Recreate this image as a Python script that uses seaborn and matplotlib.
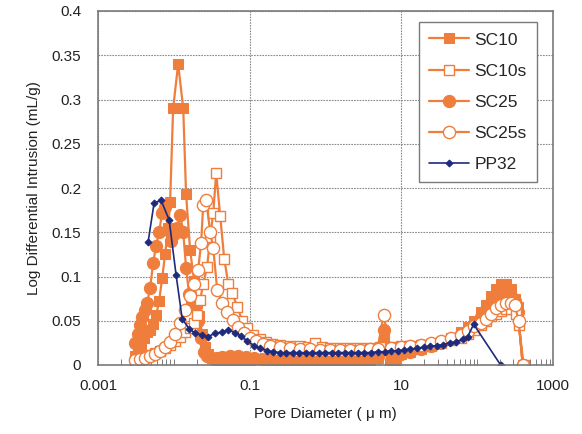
import matplotlib
matplotlib.use("Agg")
import seaborn as sns
from matplotlib import pyplot as plt
from matplotlib.ticker import FixedLocator, NullFormatter

# pore diameter (um) / log differential intrusion (mL/g)
sc10_x = [0.00308, 0.00338, 0.00370, 0.00405, 0.00444, 0.00486, 0.00533, 0.00584, 0.00639, 0.00701,
          0.00767, 0.00841, 0.00893, 0.00979, 0.0114, 0.0133, 0.0145, 0.0164, 0.0185, 0.0203,
          0.0216, 0.0236, 0.0259, 0.0284, 0.0321, 0.0373, 0.0476, 0.0607, 0.0751, 0.102,
          0.138, 0.187, 0.254, 0.344, 0.466, 0.631, 0.857, 1.16, 1.57, 2.13,
          2.89, 3.92, 4.85, 5.82, 7.20, 8.38, 9.76, 13.2, 17.9, 24.3,
          33.0, 44.7, 60.5, 74.9, 89.9, 111, 130, 151, 176, 204,
          238, 277, 313, 343, 399]
sc10_y = [0.010, 0.016, 0.022, 0.030, 0.037, 0.040, 0.046, 0.056, 0.072, 0.098,
          0.125, 0.155, 0.184, 0.290, 0.340, 0.290, 0.193, 0.130, 0.095, 0.070,
          0.055, 0.035, 0.020, 0.012, 0.008, 0.006, 0.005, 0.005, 0.005, 0.006,
          0.007, 0.007, 0.006, 0.005, 0.004, 0.004, 0.004, 0.004, 0.004, 0.005,
          0.005, 0.006, 0.008, 0.030, 0.008, 0.000, 0.012, 0.015, 0.018, 0.021,
          0.025, 0.030, 0.037, 0.043, 0.050, 0.060, 0.068, 0.078, 0.086, 0.092,
          0.092, 0.086, 0.075, 0.065, 0.000]

sc10s_x = [0.00308, 0.00359, 0.00418, 0.00486, 0.00566, 0.00659, 0.00767, 0.00893, 0.0104, 0.0121,
           0.0141, 0.0164, 0.0185, 0.0203, 0.0222, 0.0244, 0.0275, 0.0302, 0.0331, 0.0362,
           0.0409, 0.0462, 0.0522, 0.0589, 0.0686, 0.0798, 0.0930, 0.112, 0.138, 0.166,
           0.199, 0.254, 0.344, 0.466, 0.594, 0.735, 0.910, 1.16, 1.57, 2.13,
           2.89, 3.92, 5.31, 7.20, 9.76, 13.2, 17.9, 24.3, 33.0, 44.7,
           60.5, 74.9, 89.9, 111, 130, 151, 176, 204, 238, 277,
           323, 353, 411]
sc10s_y = [0.006, 0.008, 0.009, 0.011, 0.013, 0.016, 0.019, 0.023, 0.027, 0.032,
           0.037, 0.042, 0.048, 0.056, 0.073, 0.092, 0.111, 0.145, 0.172, 0.217,
           0.168, 0.120, 0.092, 0.081, 0.066, 0.050, 0.042, 0.034, 0.029, 0.026,
           0.024, 0.023, 0.022, 0.021, 0.020, 0.025, 0.020, 0.019, 0.019, 0.019,
           0.019, 0.019, 0.020, 0.020, 0.021, 0.022, 0.023, 0.024, 0.026, 0.028,
           0.031, 0.035, 0.040, 0.045, 0.050, 0.055, 0.058, 0.061, 0.063, 0.063,
           0.058, 0.045, 0.000]

sc25_x = [0.00308, 0.00338, 0.00359, 0.00381, 0.00418, 0.00444, 0.00486, 0.00533, 0.00584, 0.00639,
          0.00701, 0.00767, 0.00841, 0.00921, 0.0101, 0.0110, 0.0121, 0.0133, 0.0145, 0.0159,
          0.0175, 0.0191, 0.0209, 0.0229, 0.0251, 0.0275, 0.0321, 0.0373, 0.0435, 0.0554,
          0.0707, 0.0902, 0.115, 0.147, 0.187, 0.254, 0.344, 0.466, 0.631, 0.857,
          1.16, 1.57, 2.13, 2.89, 3.92, 4.85, 5.82, 7.20, 9.76, 13.2,
          17.9, 24.3, 33.0, 44.7, 60.5, 74.9, 89.9, 111, 130, 151,
          176, 204, 238, 277, 313, 343, 399]
sc25_y = [0.025, 0.035, 0.045, 0.054, 0.062, 0.070, 0.087, 0.115, 0.135, 0.150,
          0.172, 0.178, 0.152, 0.140, 0.148, 0.155, 0.170, 0.150, 0.110, 0.080,
          0.070, 0.065, 0.050, 0.030, 0.015, 0.010, 0.008, 0.008, 0.009, 0.010,
          0.010, 0.009, 0.008, 0.007, 0.006, 0.005, 0.004, 0.004, 0.004, 0.004,
          0.004, 0.004, 0.005, 0.005, 0.006, 0.010, 0.040, 0.006, 0.012, 0.015,
          0.018, 0.021, 0.025, 0.029, 0.035, 0.040, 0.046, 0.054, 0.062, 0.070,
          0.076, 0.080, 0.080, 0.078, 0.072, 0.060, 0.000]

sc25s_x = [0.00308, 0.00359, 0.00418, 0.00486, 0.00566, 0.00659, 0.00767, 0.00893, 0.0104, 0.0121,
           0.0141, 0.0164, 0.0185, 0.0209, 0.0229, 0.0244, 0.0267, 0.0302, 0.0331, 0.0373,
           0.0435, 0.0506, 0.0607, 0.0707, 0.0849, 0.102, 0.122, 0.151, 0.187, 0.254,
           0.344, 0.466, 0.631, 0.857, 1.16, 1.57, 2.13, 2.89, 3.92, 4.85,
           5.82, 7.20, 9.76, 13.2, 17.9, 24.3, 33.0, 44.7, 60.5, 74.9,
           89.9, 111, 130, 151, 176, 204, 238, 277, 313, 353,
           399]
sc25s_y = [0.006, 0.007, 0.008, 0.010, 0.012, 0.016, 0.020, 0.026, 0.035, 0.047,
           0.062, 0.078, 0.092, 0.107, 0.138, 0.181, 0.186, 0.150, 0.132, 0.085,
           0.070, 0.060, 0.051, 0.043, 0.036, 0.031, 0.027, 0.024, 0.022, 0.020,
           0.019, 0.018, 0.018, 0.017, 0.017, 0.017, 0.017, 0.017, 0.018, 0.018,
           0.056, 0.019, 0.020, 0.021, 0.023, 0.025, 0.027, 0.030, 0.034, 0.038,
           0.044, 0.048, 0.052, 0.058, 0.064, 0.068, 0.070, 0.070, 0.068, 0.050,
           0.000]

pp32_x = [0.00458, 0.00549, 0.00680, 0.00867, 0.0107, 0.0129, 0.0159, 0.0191, 0.0236, 0.0284,
          0.0351, 0.0435, 0.0522, 0.0645, 0.0775, 0.0930, 0.115, 0.138, 0.171, 0.205,
          0.254, 0.304, 0.377, 0.452, 0.560, 0.671, 0.830, 0.997, 1.23, 1.48,
          1.83, 2.20, 2.72, 3.26, 4.04, 4.85, 6.00, 7.20, 8.91, 10.7,
          13.2, 15.9, 19.7, 23.6, 29.2, 35.0, 43.3, 52.0, 64.3, 74.9,
          89.9, 204]
pp32_y = [0.139, 0.183, 0.186, 0.164, 0.102, 0.052, 0.041, 0.036, 0.034, 0.032,
          0.036, 0.037, 0.040, 0.036, 0.033, 0.027, 0.022, 0.019, 0.016, 0.015,
          0.014, 0.014, 0.014, 0.014, 0.014, 0.014, 0.014, 0.014, 0.014, 0.014,
          0.014, 0.014, 0.014, 0.014, 0.014, 0.015, 0.015, 0.016, 0.016, 0.017,
          0.018, 0.019, 0.020, 0.021, 0.022, 0.023, 0.025, 0.026, 0.029, 0.032,
          0.046, 0.000]

orange = "#EF7D3C"
navy = "#1E2A7C"

sns.set_style("white")
plt.rcParams["font.family"] = ["Liberation Sans", "DejaVu Sans"]

fig = plt.figure(figsize=(5.82, 4.34), dpi=100)
ax = fig.add_axes([98 / 582, 1 - 365 / 434, 455 / 582, 354 / 434])

common = dict(ax=ax, estimator=None, color=orange, linewidth=1.6)
sns.lineplot(x=sc10_x, y=sc10_y, marker="s", markersize=7.8, markerfacecolor=orange,
             markeredgecolor=orange, label="SC10", **common)
sns.lineplot(x=sc25_x, y=sc25_y, marker="o", markersize=8.8, markerfacecolor=orange,
             markeredgecolor=orange, label="SC25", **common)
sns.lineplot(x=sc10s_x, y=sc10s_y, marker="s", markersize=7.8, markerfacecolor="white",
             markeredgecolor=orange, markeredgewidth=1.0, label="SC10s", **common)
sns.lineplot(x=sc25s_x, y=sc25s_y, marker="o", markersize=8.8, markerfacecolor="white",
             markeredgecolor=orange, markeredgewidth=1.0, label="SC25s", **common)
sns.lineplot(x=pp32_x, y=pp32_y, ax=ax, estimator=None, color=navy, linewidth=1.2,
             marker="D", markersize=3.5, markerfacecolor=navy, markeredgecolor=navy,
             label="PP32")

ax.set_xscale("log")
ax.set_xlim(0.001, 1000)
ax.set_ylim(0, 0.4)
ax.xaxis.set_major_locator(FixedLocator([0.001, 0.1, 10, 1000]))
ax.set_xticklabels(["0.001", "0.1", "10", "1000"])
minor = [k * 10.0 ** e for e in range(-3, 3) for k in range(1, 10)]
minor = [m for m in minor if m not in (0.001, 0.1, 10)]
ax.xaxis.set_minor_locator(FixedLocator(minor))
ax.xaxis.set_minor_formatter(NullFormatter())
ax.set_yticks([0, 0.05, 0.1, 0.15, 0.2, 0.25, 0.3, 0.35, 0.4])
ax.set_yticklabels(["0", "0.05", "0.1", "0.15", "0.2", "0.25", "0.3", "0.35", "0.4"])

ax.grid(True, which="major", axis="both", color="#8a8a8a", linestyle=(0, (1.5, 1.0)),
        linewidth=0.8)
ax.tick_params(axis="x", which="major", direction="in", length=0, pad=10,
               labelsize=11, colors="#222222")
ax.tick_params(axis="x", which="minor", direction="in", length=4, color="#666666",
               bottom=True)
ax.tick_params(axis="y", which="major", direction="in", length=0, pad=12,
               labelsize=11, colors="#222222")
for s in ax.spines.values():
    s.set_color("#7a7a7a")
    s.set_linewidth(1.2)

ax.set_xlabel("Pore Diameter ( \u03bc m)", fontsize=11, color="#222222", labelpad=10)
ax.set_ylabel("Log Differential Intrusion (mL/g)", fontsize=11, color="#222222",
              labelpad=8)

handles, labels = ax.get_legend_handles_labels()
order = ["SC10", "SC10s", "SC25", "SC25s", "PP32"]
hmap = dict(zip(labels, handles))
leg = ax.legend([hmap[k] for k in order], order, loc="upper right",
                bbox_to_anchor=(537 / 582, 1 - 22 / 434), bbox_transform=fig.transFigure,
                borderaxespad=0, fancybox=False, framealpha=1, edgecolor="#7a7a7a",
                fontsize=12.5, handlelength=2.3, labelspacing=0.92, borderpad=0.6,
                handletextpad=0.3)
leg.get_frame().set_linewidth(1.0)

fig.savefig("out.png", dpi=100)
